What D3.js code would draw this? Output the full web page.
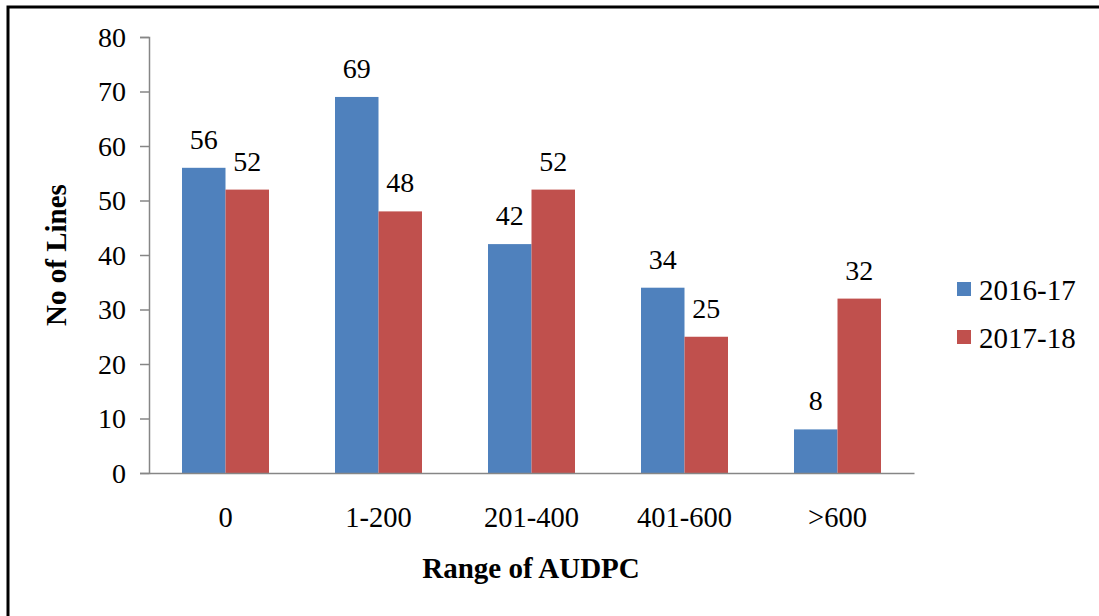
<!DOCTYPE html>
<html>
<head>
<meta charset="utf-8">
<script src="https://d3js.org/d3.v7.min.js"></script>
<style>
    body { margin: 0; background: #fff; }
    svg text { font-family: "Liberation Serif", "Times New Roman", serif; fill: #000; }
</style>
</head>
<body>
<svg id="chart" width="1099" height="616"></svg>
<script>
// chart data
const categories = ["0", "1-200", "201-400", "401-600", ">600"];
const seriesNames = ["2016-17", "2017-18"];
const values2016 = [56, 69, 42, 34, 8];
const values2017 = [52, 48, 52, 25, 32];
const yTicks = [0, 10, 20, 30, 40, 50, 60, 70, 80];
const colors = ["#4F81BD", "#C0504D"];

const svg = d3.select("#chart");
const serif = '"Liberation Serif", "Times New Roman", serif';

// outer frame (only top and left show in the picture)
svg.append("path")
    .attr("d", "M8,620 L8,7 L1105,7")
    .attr("fill", "none")
    .attr("stroke", "#000")
    .attr("stroke-width", 3);

const margin = {left: 149, top: 37, right: 914, bottom: 473};

const x = d3.scaleBand()
    .domain(categories)
    .range([margin.left, margin.right])
    .paddingInner(0)
    .paddingOuter(0);

const x1 = d3.scaleBand()
    .domain(seriesNames)
    .range([0, 87]);

const y = d3.scaleLinear()
    .domain([0, 80])
    .range([margin.bottom, margin.top]);

// bars
const rows = categories.map((c, i) => ({cat: c, vals: [values2016[i], values2017[i]]}));

const groups = svg.selectAll(".grp")
    .data(rows)
    .enter().append("g")
    .attr("transform", d => `translate(${x(d.cat) + (x.bandwidth() - 87) / 2},0)`);

groups.selectAll("rect")
    .data(d => d.vals.map((v, j) => ({name: seriesNames[j], v: v, j: j})))
    .enter().append("rect")
    .attr("x", d => x1(d.name))
    .attr("width", x1.bandwidth())
    .attr("y", d => y(d.v))
    .attr("height", d => y(0) - y(d.v))
    .attr("fill", d => colors[d.j]);

groups.selectAll("text")
    .data(d => d.vals.map((v, j) => ({name: seriesNames[j], v: v})))
    .enter().append("text")
    .attr("x", d => x1(d.name) + x1.bandwidth() / 2)
    .attr("y", d => y(d.v) - 19)
    .attr("text-anchor", "middle")
    .style("font-family", serif)
    .style("font-size", "28px")
    .text(d => d.v);

// y axis
const yAxis = svg.append("g")
    .attr("transform", `translate(${margin.left},0)`)
    .call(d3.axisLeft(y).tickValues(yTicks).tickSize(9).tickPadding(14));
yAxis.attr("font-family", serif);
yAxis.select(".domain").attr("stroke", "#868686").attr("stroke-width", 1.5);
yAxis.selectAll(".tick line").attr("stroke", "#868686").attr("stroke-width", 1.5);
yAxis.selectAll(".tick text").style("font-family", serif).style("font-size", "28px").attr("dy", "0.33em");

// x axis
const xAxis = svg.append("g")
    .attr("transform", `translate(0,${margin.bottom})`)
    .call(d3.axisBottom(x).tickSize(0).tickPadding(34));
xAxis.attr("font-family", serif);
xAxis.select(".domain").attr("stroke", "#868686").attr("stroke-width", 1.5);
xAxis.selectAll(".tick text").style("font-family", serif).style("font-size", "28.5px");

// axis titles
svg.append("text")
    .attr("transform", "translate(66,255) rotate(-90)")
    .attr("text-anchor", "middle")
    .style("font-family", serif)
    .style("font-size", "29px")
    .style("font-weight", "bold")
    .text("No of Lines");

svg.append("text")
    .attr("x", 531)
    .attr("y", 578)
    .attr("text-anchor", "middle")
    .style("font-family", serif)
    .style("font-size", "29px")
    .style("font-weight", "bold")
    .text("Range of AUDPC");

// legend
const legend = svg.selectAll(".leg")
    .data(seriesNames)
    .enter().append("g")
    .attr("transform", (d, i) => `translate(957,${282 + i * 48})`);
legend.append("rect")
    .attr("width", 14)
    .attr("height", 14)
    .attr("fill", (d, i) => colors[i]);
legend.append("text")
    .attr("x", 22)
    .attr("y", 18)
    .style("font-family", serif)
    .style("font-size", "29px")
    .text(d => d);
</script>
</body>
</html>
